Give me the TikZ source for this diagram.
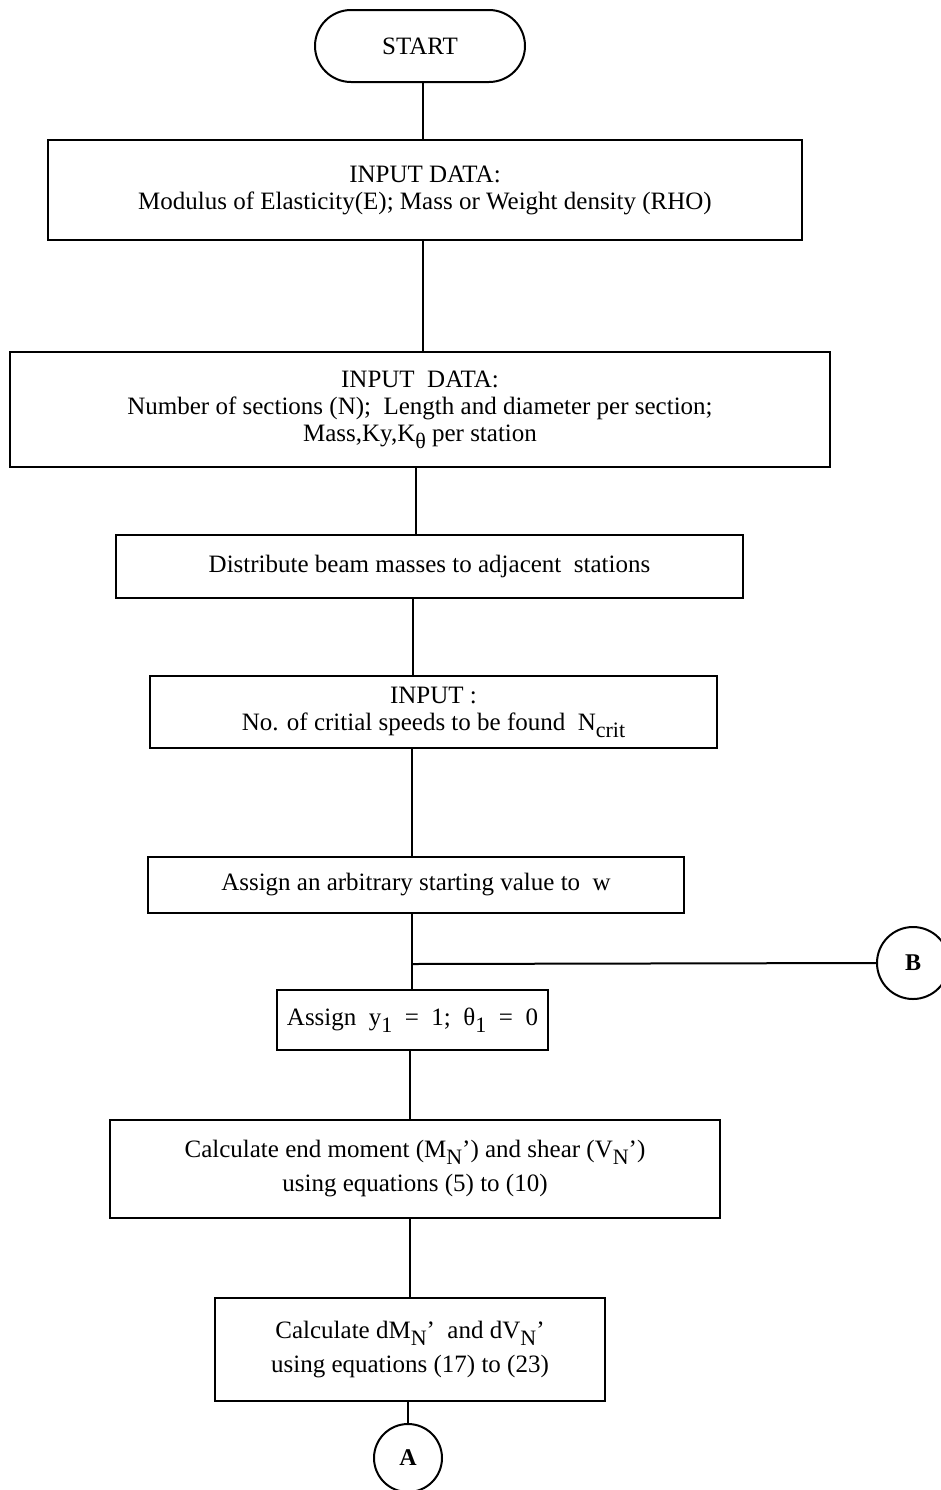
\documentclass[tikz,border=0pt]{standalone}
\usepackage{fontspec}
\setmainfont{Liberation Serif}
\newcommand\lowsub[1]{\raisebox{-0.6ex}{\fontsize{11}{12}\selectfont #1}}
\tikzset{
  box/.style={draw, line width=1pt, align=center, inner sep=0pt, font=\fontsize{12.5}{13.5}\selectfont},
  widebox/.style={box, font=\fontsize{12.5}{17}\selectfont},
  term/.style={draw, line width=1pt, rounded corners=18pt, align=center, font=\fontsize{12.5}{14}\selectfont},
  conn/.style={draw, circle, line width=1pt, inner sep=0pt, font=\fontsize{12}{13}\selectfont\bfseries},
  link/.style={line width=1pt}
}
\begin{document}
\begin{tikzpicture}[x=0.5pt,y=-0.5pt]
\useasboundingbox (0,0) rectangle (941,1490);
\node[term, minimum width=105pt, minimum height=36pt] (start) at (420,46) {START};
\node[box, minimum width=377pt, minimum height=50pt] (b1) at (425,190)
  {INPUT DATA:\\ Modulus of Elasticity(E); Mass or Weight density (RHO)};
\node[box, minimum width=410pt, minimum height=57.5pt] (b2) at (420,409.5)
  {INPUT\ \ DATA:\\ Number of sections (N);\ \ Length and diameter per section;\\ Mass,Ky,K\lowsub{θ} per station};
\node[box, minimum width=313.5pt, minimum height=31.5pt] (b3) at (429.5,566.5)
  {Distribute beam masses to adjacent\ \ stations};
\node[box, minimum width=283.5pt, minimum height=36pt] (b4) at (433.5,712)
  {INPUT :\\ No. of critial speeds to be found\ \ N\lowsub{crit}};
\node[box, minimum width=268pt, minimum height=28pt] (b5) at (416,885)
  {Assign an arbitrary starting value to\ \ w};
\coordinate (j) at (412,964);
\node[conn, minimum size=36pt] (B) at (913,963) {B};
\node[box, minimum width=135.5pt, minimum height=30pt] (b6) at (412.5,1020)
  {Assign\ \ y\lowsub{1}\ \ =\ \ 1;\ \ θ\lowsub{1}\ \ =\ \ 0};
\node[widebox, minimum width=305pt, minimum height=49pt] (b7) at (415,1169)
  {Calculate end moment (M\lowsub{N}') and shear (V\lowsub{N}')\\ using equations (5) to (10)};
\node[widebox, minimum width=195pt, minimum height=51.5pt] (b8) at (410,1349.5)
  {Calculate dM\lowsub{N}'\ \ and dV\lowsub{N}'\\ using equations (17) to (23)};
\node[conn, minimum size=34pt] (A) at (408,1458) {A};

\coordinate (xa) at (423,0);
\coordinate (xb) at (416,0);
\coordinate (xc) at (413,0);
\coordinate (xd) at (410,0);
\coordinate (xe) at (408,0);
\draw[link] (start.south -| xa) -- (b1.north -| xa);
\draw[link] (b1.south -| xa) -- (b2.north -| xa);
\draw[link] (b2.south -| xb) -- (b3.north -| xb);
\draw[link] (b3.south -| xc) -- (b4.north -| xc);
\draw[link] (b4.south -| j) -- (b5.north -| j);
\draw[link] (b5.south -| j) -- (j);
\draw[link] (j) -- (B.west);
\draw[link] (j) -- (j |- b6.north);
\draw[link] (b6.south -| xd) -- (b7.north -| xd);
\draw[link] (b7.south -| xd) -- (b8.north -| xd);
\draw[link] (b8.south -| xe) -- (A.north);
\end{tikzpicture}
\end{document}
